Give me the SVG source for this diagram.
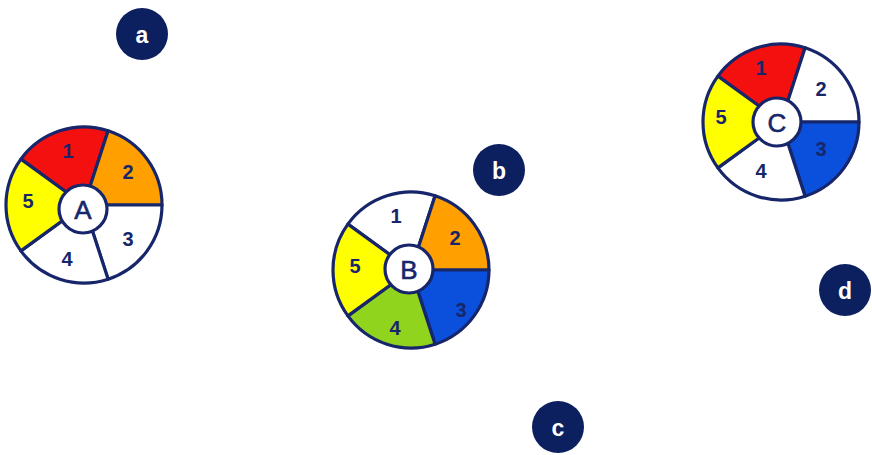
<svg xmlns="http://www.w3.org/2000/svg" width="872" height="455" viewBox="0 0 872 455">
<defs>
<style>
.seg{stroke:#17266a;stroke-width:3.2;stroke-linejoin:round}
.red{fill:#f51010}.org{fill:#ffa000}.yel{fill:#ffff00}.wht{fill:#ffffff}.blu{fill:#0a50dc}.grn{fill:#90d41e}
.num{font-family:"Liberation Sans",Arial,sans-serif;font-weight:bold;font-size:20px;fill:#17266a;text-anchor:middle;dominant-baseline:central}
.hub{fill:#fff;stroke:#17266a;stroke-width:3.2}
.hubt{font-family:"Liberation Sans",Arial,sans-serif;font-size:26px;fill:#17266a;text-anchor:middle;dominant-baseline:central;stroke:#17266a;stroke-width:0.6}
.dot{fill:#0c1f5e}
.dott{font-family:"Liberation Sans",Arial,sans-serif;font-weight:bold;font-size:23px;fill:#fff;text-anchor:middle;dominant-baseline:central}
</style>
<path id="s1" d="M0 0 L-63.1 -45.86 A78 78 0 0 1 24.1 -74.18 Z"/>
<path id="s2" d="M0 0 L24.1 -74.18 A78 78 0 0 1 78 0 Z"/>
<path id="s3" d="M0 0 L78 0 A78 78 0 0 1 24.1 74.18 Z"/>
<path id="s4" d="M0 0 L24.1 74.18 A78 78 0 0 1 -63.1 45.86 Z"/>
<path id="s5" d="M0 0 L-63.1 45.86 A78 78 0 0 1 -63.1 -45.86 Z"/>
</defs>
<rect width="872" height="455" fill="#fff"/>
<g id="wheelA" transform="translate(84,205)">
<use href="#s1" class="seg red"/><use href="#s2" class="seg org"/><use href="#s3" class="seg wht"/><use href="#s4" class="seg wht"/><use href="#s5" class="seg yel"/>
<circle cx="-1" cy="4" r="24" class="hub"/>
<text x="-1" y="5" class="hubt">A</text>
<text x="-16" y="-54" class="num">1</text><text x="44" y="-33" class="num">2</text><text x="44" y="34" class="num">3</text><text x="-17" y="54" class="num">4</text><text x="-56" y="-4" class="num">5</text>
</g>
<g id="wheelB" transform="translate(411,270)">
<use href="#s1" class="seg wht"/><use href="#s2" class="seg org"/><use href="#s3" class="seg blu"/><use href="#s4" class="seg grn"/><use href="#s5" class="seg yel"/>
<circle cx="-2" cy="-1" r="24" class="hub"/>
<text x="-2" y="0" class="hubt">B</text>
<text x="-15" y="-54" class="num">1</text><text x="44" y="-32" class="num">2</text><text x="50" y="40" class="num">3</text><text x="-16" y="58" class="num">4</text><text x="-56" y="-4" class="num">5</text>
</g>
<g id="wheelC" transform="translate(781,122)">
<use href="#s1" class="seg red"/><use href="#s2" class="seg wht"/><use href="#s3" class="seg blu"/><use href="#s4" class="seg wht"/><use href="#s5" class="seg yel"/>
<circle cx="-4" cy="0" r="24" class="hub"/>
<text x="-4" y="1" class="hubt">C</text>
<text x="-20" y="-54" class="num">1</text><text x="40" y="-33" class="num">2</text><text x="40" y="27" class="num">3</text><text x="-20" y="49" class="num">4</text><text x="-60" y="-5" class="num">5</text>
</g>
<g id="a"><circle cx="142" cy="34" r="26" class="dot"/><text x="142" y="35" class="dott">a</text></g>
<g id="b"><circle cx="499" cy="170" r="26" class="dot"/><text x="499" y="171" class="dott">b</text></g>
<g id="c"><circle cx="558" cy="427" r="26" class="dot"/><text x="558" y="428" class="dott">c</text></g>
<g id="d"><circle cx="845" cy="290" r="26" class="dot"/><text x="845" y="291" class="dott">d</text></g>
<g id="connectors"/>
</svg>
